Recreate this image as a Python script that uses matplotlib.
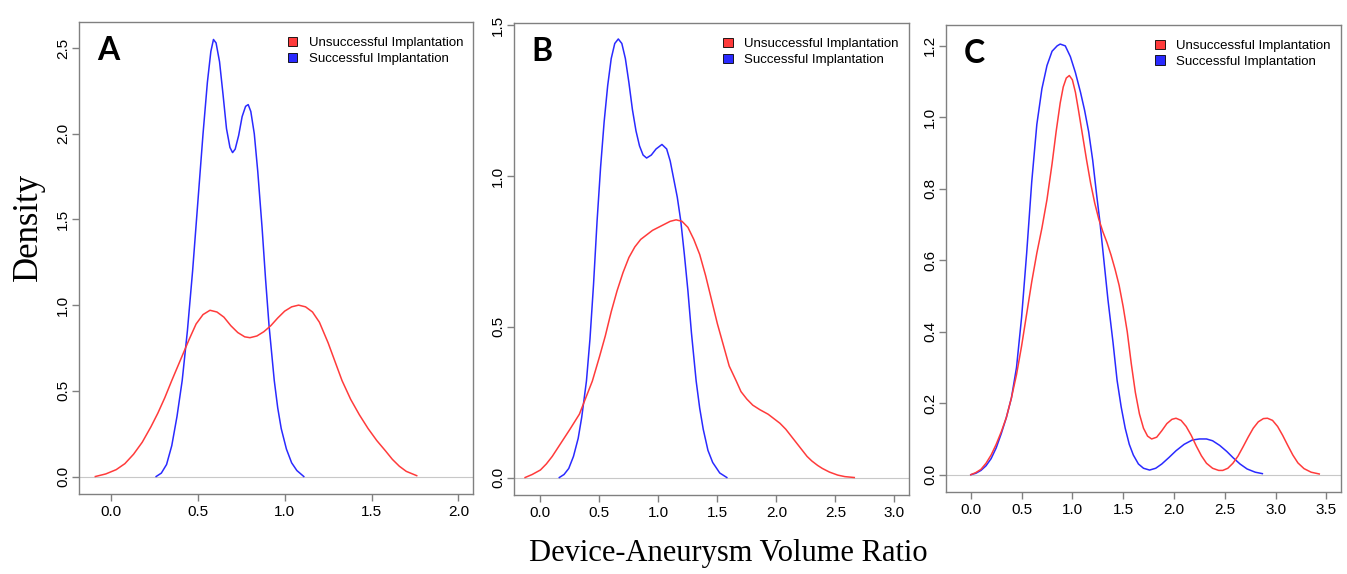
import numpy as np
import matplotlib
matplotlib.use("Agg")
import matplotlib.pyplot as plt
from matplotlib.patches import Patch

# ---- data ----
# panel A
a_red_x = [-0.09, -0.03, 0.03, 0.08, 0.13, 0.18, 0.23, 0.27, 0.31, 0.35, 0.40, 0.45, 0.49,
           0.53, 0.57, 0.61, 0.65, 0.69, 0.73, 0.77, 0.80, 0.84, 0.88, 0.92, 0.96, 1.00,
           1.04, 1.08, 1.12, 1.16, 1.20, 1.25, 1.29, 1.33, 1.38, 1.43, 1.48, 1.53, 1.58,
           1.62, 1.66, 1.70, 1.76]
a_red_y = [0.0, 0.015, 0.04, 0.075, 0.13, 0.20, 0.29, 0.37, 0.46, 0.56, 0.68, 0.80, 0.89,
           0.945, 0.97, 0.96, 0.93, 0.88, 0.84, 0.815, 0.81, 0.82, 0.845, 0.88, 0.925, 0.965,
           0.99, 1.0, 0.99, 0.96, 0.90, 0.78, 0.67, 0.56, 0.45, 0.36, 0.28, 0.21, 0.15,
           0.10, 0.06, 0.03, 0.005]
a_blue_x = [0.26, 0.29, 0.32, 0.35, 0.38, 0.41, 0.44, 0.47, 0.50, 0.53, 0.555, 0.575, 0.59,
            0.605, 0.625, 0.645, 0.665, 0.685, 0.70, 0.715, 0.735, 0.755, 0.775, 0.79, 0.805,
            0.825, 0.845, 0.87, 0.89, 0.91, 0.94, 0.96, 0.98, 1.01, 1.04, 1.07, 1.11]
a_blue_y = [0.0, 0.02, 0.07, 0.18, 0.35, 0.56, 0.85, 1.20, 1.60, 2.00, 2.30, 2.48, 2.55,
            2.53, 2.42, 2.23, 2.03, 1.92, 1.89, 1.91, 1.99, 2.10, 2.16, 2.17, 2.13,
            2.00, 1.78, 1.45, 1.15, 0.88, 0.56, 0.40, 0.28, 0.16, 0.08, 0.035, 0.0]

# panel B
b_red_x = [-0.13, -0.07, 0.0, 0.05, 0.10, 0.15, 0.20, 0.25, 0.29, 0.33, 0.38, 0.44, 0.50,
           0.55, 0.60, 0.65, 0.70, 0.75, 0.80, 0.85, 0.90, 0.95, 1.00, 1.05, 1.10, 1.15,
           1.20, 1.25, 1.30, 1.35, 1.40, 1.45, 1.50, 1.55, 1.60, 1.66, 1.70, 1.75, 1.80,
           1.86, 1.93, 1.98, 2.03, 2.08, 2.12, 2.17, 2.22, 2.26, 2.30, 2.35, 2.39, 2.45,
           2.52, 2.58, 2.66]
b_red_y = [0.0, 0.01, 0.025, 0.045, 0.07, 0.10, 0.13, 0.16, 0.185, 0.21, 0.26, 0.32, 0.40,
           0.47, 0.55, 0.62, 0.68, 0.73, 0.765, 0.79, 0.805, 0.82, 0.83, 0.84, 0.85, 0.855,
           0.85, 0.83, 0.79, 0.74, 0.67, 0.59, 0.51, 0.44, 0.37, 0.32, 0.285, 0.26, 0.24,
           0.225, 0.21, 0.195, 0.18, 0.16, 0.14, 0.115, 0.09, 0.07, 0.055, 0.04, 0.03, 0.018,
           0.008, 0.003, 0.0]
b_blue_x = [0.16, 0.20, 0.24, 0.28, 0.32, 0.35, 0.39, 0.42, 0.45, 0.48, 0.51, 0.54, 0.57,
            0.60, 0.63, 0.66, 0.69, 0.72, 0.75, 0.78, 0.81, 0.84, 0.87, 0.90, 0.94, 0.98,
            1.03, 1.07, 1.10, 1.13, 1.16, 1.19, 1.22, 1.25, 1.28, 1.32, 1.35, 1.38, 1.42,
            1.46, 1.52, 1.58]
b_blue_y = [0.0, 0.01, 0.03, 0.07, 0.13, 0.20, 0.32, 0.46, 0.64, 0.85, 1.03, 1.18, 1.30,
            1.39, 1.44, 1.455, 1.44, 1.39, 1.31, 1.22, 1.15, 1.10, 1.07, 1.06, 1.07, 1.09,
            1.105, 1.09, 1.05, 0.99, 0.93, 0.85, 0.74, 0.62, 0.48, 0.32, 0.23, 0.16, 0.09,
            0.05, 0.015, 0.0]

# panel C
c_red_x = [0.0, 0.05, 0.1, 0.15, 0.2, 0.25, 0.3, 0.35, 0.4, 0.45, 0.5, 0.55, 0.6, 0.65,
           0.7, 0.75, 0.8, 0.84, 0.88, 0.91, 0.94, 0.97, 1.0, 1.03, 1.06, 1.10, 1.14, 1.18,
           1.22, 1.26, 1.30, 1.34, 1.38, 1.42, 1.46, 1.50, 1.54, 1.58, 1.62, 1.66, 1.70,
           1.74, 1.78, 1.83, 1.88, 1.93, 1.98, 2.02, 2.07, 2.12, 2.17, 2.22, 2.27, 2.32,
           2.38, 2.44, 2.48, 2.53, 2.58, 2.63, 2.68, 2.73, 2.78, 2.83, 2.88, 2.92, 2.97,
           3.02, 3.07, 3.12, 3.17, 3.22, 3.28, 3.35, 3.43]
c_red_y = [0.0, 0.006, 0.015, 0.032, 0.055, 0.085, 0.12, 0.16, 0.215, 0.28, 0.36, 0.45,
           0.54, 0.62, 0.69, 0.77, 0.87, 0.96, 1.04, 1.085, 1.11, 1.117, 1.105, 1.07, 1.02,
           0.95, 0.88, 0.815, 0.76, 0.715, 0.68, 0.65, 0.615, 0.575, 0.53, 0.47, 0.40, 0.31,
           0.23, 0.17, 0.13, 0.108, 0.10, 0.105, 0.123, 0.143, 0.155, 0.158, 0.152, 0.135,
           0.11, 0.08, 0.053, 0.032, 0.018, 0.012, 0.012, 0.018, 0.032, 0.052, 0.078, 0.105,
           0.13, 0.148, 0.157, 0.158, 0.152, 0.135, 0.11, 0.082, 0.055, 0.033, 0.017, 0.007,
           0.002]
c_blue_x = [0.0, 0.05, 0.1, 0.15, 0.2, 0.25, 0.3, 0.35, 0.4, 0.45, 0.5, 0.55, 0.6, 0.65,
            0.7, 0.75, 0.8, 0.85, 0.88, 0.93, 0.98, 1.03, 1.08, 1.12, 1.16, 1.20, 1.24,
            1.27, 1.31, 1.35, 1.40, 1.44, 1.48, 1.52, 1.56, 1.6, 1.65, 1.7, 1.76, 1.82,
            1.88, 1.95, 2.02, 2.1, 2.18, 2.25, 2.32, 2.38, 2.45, 2.52, 2.58, 2.65, 2.72,
            2.8, 2.87]
c_blue_y = [0.0, 0.004, 0.012, 0.025, 0.045, 0.075, 0.115, 0.16, 0.215, 0.30, 0.44, 0.62,
            0.82, 0.98, 1.08, 1.145, 1.185, 1.20, 1.205, 1.2, 1.17, 1.125, 1.07, 1.02, 0.96,
            0.88, 0.78, 0.71, 0.60, 0.49, 0.37, 0.264, 0.19, 0.13, 0.085, 0.055, 0.03,
            0.018, 0.013, 0.018, 0.03, 0.048, 0.067, 0.085, 0.097, 0.10, 0.10, 0.095, 0.082,
            0.065, 0.048, 0.03, 0.016, 0.007, 0.003]

panel_letters = ["A", "B", "C"]
legend_labels = ["Unsuccessful Implantation", "Successful Implantation"]
xlims = [(-0.1, 2.0), (-0.1, 3.0), (-0.1, 3.5)]
ylims = [(0, 2.55), (0, 1.45), (0, 1.21)]
xticks = [np.arange(0, 2.01, 0.5), np.arange(0, 3.01, 0.5), np.arange(0, 3.51, 0.5)]
yticks = [np.arange(0, 2.51, 0.5), np.arange(0, 1.51, 0.5), np.arange(0, 1.21, 0.2)]

RED = "#ff3b3b"
BLUE = "#2a2aff"
GREY = "#808080"

W, H = 1347, 574
fig = plt.figure(figsize=(W / 100, H / 100), dpi=100)

# axes boxes in pixels: left, right, top, bottom
boxes = [(79, 473, 22, 494), (514, 909, 23, 495), (946, 1341, 25, 492)]
curves = [(a_red_x, a_red_y, a_blue_x, a_blue_y),
          (b_red_x, b_red_y, b_blue_x, b_blue_y),
          (c_red_x, c_red_y, c_blue_x, c_blue_y)]


def r_lim(lo, hi):
    # R style 4% padding
    d = (hi - lo) * 0.04
    return lo - d, hi + d


for i in range(3):
    l, r, t, b = boxes[i]
    ax = fig.add_axes([l / W, (H - b) / H, (r - l) / W, (b - t) / H])
    rx, ry, bx, by = curves[i]

    ax.axhline(0, color="#c8c8c8", lw=0.8, zorder=1)
    ax.plot(rx, ry, color=RED, lw=1.1, zorder=3, solid_joinstyle="round")
    ax.plot(bx, by, color=BLUE, lw=1.1, zorder=2, solid_joinstyle="round")

    ax.set_xlim(*r_lim(*xlims[i]))
    ax.set_ylim(*r_lim(*ylims[i]))
    ax.set_xticks(xticks[i])
    ax.set_yticks(yticks[i])
    ax.set_xticklabels([f"{v:.1f}" for v in xticks[i]], fontsize=11)
    ax.set_yticklabels([f"{v:.1f}" for v in yticks[i]], fontsize=11,
                       rotation=90, va="center")
    ax.tick_params(direction="out", length=5, width=1, color=GREY,
                   labelcolor="black", pad=3)
    ax.tick_params(axis="y", pad=1.5)
    for s in ax.spines.values():
        s.set_color(GREY)
        s.set_linewidth(1)

    ax.text(0.045, 0.94, panel_letters[i], transform=ax.transAxes,
            fontsize=23, fontweight="bold", family="Lato",
            ha="left", va="center")

    handles = [Patch(facecolor=RED, edgecolor="black", lw=0.6),
               Patch(facecolor=BLUE, edgecolor="black", lw=0.6)]
    ax.legend(handles, legend_labels, loc="upper left",
              bbox_to_anchor=(0.53, 0.968), frameon=False, fontsize=9.5,
              handlelength=0.7, handleheight=0.7, handletextpad=0.9,
              labelspacing=0.25, borderpad=0, borderaxespad=0)

for t in fig.findobj(matplotlib.text.Text):
    if t.get_text() not in panel_letters:
        t.set_family("Liberation Sans")

fig.text(28 / W, 1 - 227 / H, "Density", rotation=90, ha="center", va="center",
         fontsize=25, family="Liberation Serif")
fig.text(728 / W, 1 - 553 / H, "Device-Aneurysm Volume Ratio", ha="center",
         va="center", fontsize=22, family="Liberation Serif")

fig.savefig("out.png", dpi=100)
